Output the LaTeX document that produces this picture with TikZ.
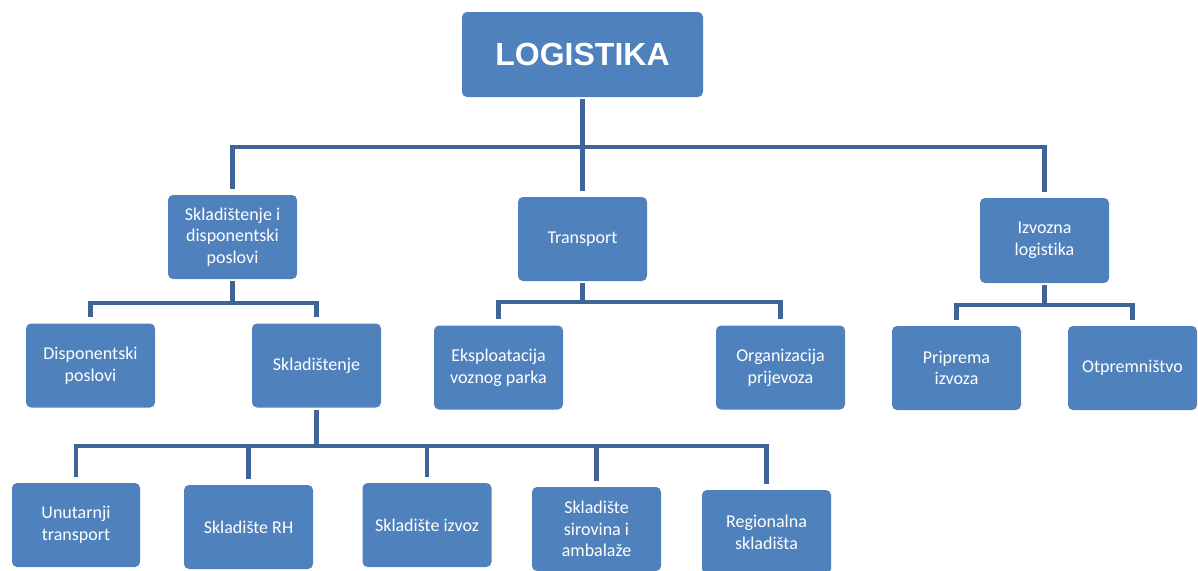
\documentclass[tikz,border=0pt]{standalone}
\usepackage{fontspec}
\setmainfont{Carlito}[Ligatures={NoCommon,NoContextual}]
\newfontfamily\headfont{Liberation Sans}
\definecolor{boxblue}{RGB}{79,129,189}
\definecolor{lineblue}{RGB}{62,100,152}
\begin{document}
\begin{tikzpicture}[x=1pt,y=-1pt,
  box/.style={fill=boxblue, rounded corners=5pt, text=white, align=center,
    minimum width=129pt, minimum height=84pt, inner sep=2pt,
    font=\fontsize{18}{21.7}\selectfont},
  conn/.style={draw=lineblue, line width=4.5pt, line join=miter,
    shorten >=6pt, shorten <=2pt}]
\useasboundingbox (0,0) rectangle (1198,570);
\clip (0,0) rectangle (1198,570);
% nodes
\node[box, minimum width=241pt, minimum height=85pt,
  font=\headfont\bfseries\fontsize{32}{36}\selectfont] (log) at (582.5,54.5) {LOGISTIKA};
\node[box] (skl) at (232.5,237) {Skladištenje i\\disponentski\\poslovi};
\node[box] (trn) at (582.5,239) {Transport};
\node[box, minimum height=85pt] (izv) at (1044.5,240.5) {Izvozna\\logistika};
\node[box] (dis) at (90.5,365.5) {Disponentski\\poslovi};
\node[box] (skd) at (316.5,365.5) {Skladištenje};
\node[box] (eks) at (498.5,367.5) {Eksploatacija\\voznog parka};
\node[box] (org) at (780.5,367.5) {Organizacija\\prijevoza};
\node[box] (pri) at (956.5,368) {Priprema\\izvoza};
\node[box] (otp) at (1132.5,368) {Otpremništvo};
\node[box, minimum width=128pt] (unu) at (76,525) {Unutarnji\\transport};
\node[box] (rh) at (248.5,527) {Skladište RH};
\node[box] (izz) at (427,525) {Skladište izvoz};
\node[box] (sir) at (596.5,529) {Skladište\\sirovina i\\ambalaže};
\node[box] (reg) at (766.5,532) {Regionalna\\skladišta};
% junctions
\coordinate (j0) at (582.5,147);
\coordinate (j1) at (232.5,303);
\coordinate (j2) at (582.5,302);
\coordinate (j3) at (1044.5,305);
\coordinate (j4) at (316.5,446);
% connectors
\draw[conn] (log) -- (j0) -| (skl);
\draw[conn] (log) -- (j0) -- (trn);
\draw[conn] (log) -- (j0) -| (izv);
\draw[conn] (skl) -- (j1) -| (dis);
\draw[conn] (skl) -- (j1) -| (skd);
\draw[conn] (trn) -- (j2) -| (eks);
\draw[conn] (trn) -- (j2) -| (org);
\draw[conn] (izv) -- (j3) -| (pri);
\draw[conn] (izv) -- (j3) -| (otp);
\draw[conn] (skd) -- (j4) -| (unu);
\draw[conn] (skd) -- (j4) -| (rh);
\draw[conn] (skd) -- (j4) -| (izz);
\draw[conn] (skd) -- (j4) -| (sir);
\draw[conn] (skd) -- (j4) -| (reg);
\end{tikzpicture}
\end{document}
